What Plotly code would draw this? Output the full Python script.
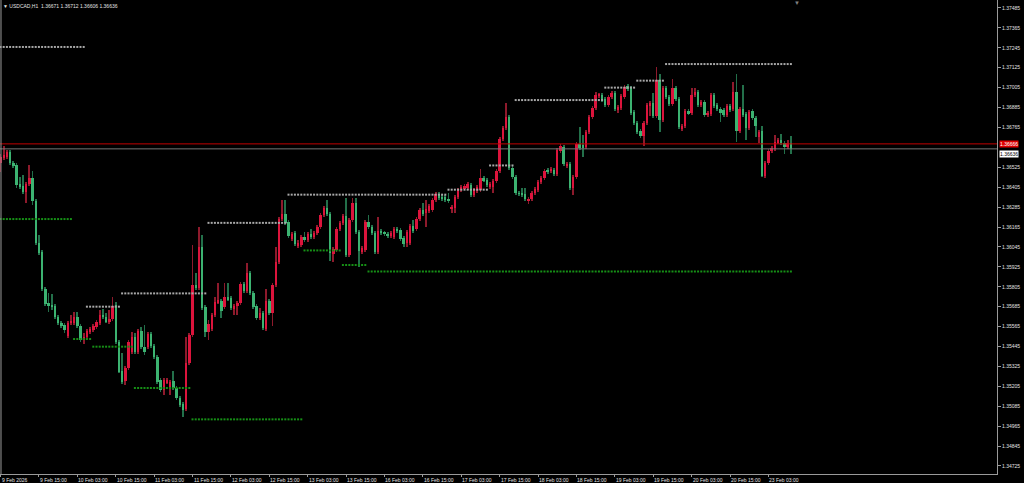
import plotly.graph_objects as go

symbol = "USDCAD,H1"

opens = [
1.36551,1.36581,1.36587,1.36617,1.36551,1.36539,1.36424,1.36412,1.36376,1.36424,
1.36460,1.36322,1.36069,1.36014,1.35791,1.35707,1.35695,1.35689,1.35623,1.35587,
1.35575,1.35508,1.35587,1.35587,1.35623,1.35569,1.35484,1.35502,1.35532,1.35544,
1.35562,1.35587,1.35635,1.35623,1.35593,1.35611,1.35695,1.35472,1.35297,1.35237,
1.35315,1.35412,1.35502,1.35412,1.35538,1.35442,1.35442,1.35520,1.35448,1.35382,
1.35243,1.35183,1.35231,1.35195,1.35237,1.35195,1.35135,1.35098,1.35068,1.35346,
1.35514,1.35816,1.35798,1.36045,1.35683,1.35532,1.35550,1.35635,1.35713,1.35719,
1.35683,1.35743,1.35737,1.35671,1.35689,1.35707,1.35822,1.35779,1.35888,1.35767,
1.35689,1.35617,1.35647,1.35550,1.35719,1.35647,1.35816,1.35954,1.36213,1.36243,
1.36195,1.36093,1.36129,1.36051,1.36057,1.36105,1.36087,1.36123,1.36105,1.36129,
1.36165,1.36237,1.36280,1.36243,1.36002,1.36026,1.36153,1.36189,1.36231,1.35996,
1.36207,1.36310,1.36135,1.36014,1.36026,1.36195,1.36165,1.36129,1.36014,1.36141,
1.36129,1.36123,1.36111,1.36105,1.36153,1.36147,1.36099,1.36069,1.36069,1.36171,
1.36153,1.36213,1.36268,1.36249,1.36262,1.36268,1.36328,1.36364,1.36346,1.36346,
1.36334,1.36274,1.36280,1.36346,1.36388,1.36400,1.36400,1.36418,1.36358,1.36382,
1.36388,1.36460,1.36448,1.36406,1.36406,1.36442,1.36503,1.36695,1.36762,1.36828,
1.36521,1.36466,1.36370,1.36370,1.36364,1.36322,1.36334,1.36370,1.36388,1.36436,
1.36460,1.36509,1.36503,1.36509,1.36484,1.36623,1.36647,1.36533,1.36545,1.36400,
1.36466,1.36665,1.36659,1.36647,1.36738,1.36828,1.36882,1.36955,1.36961,1.36936,
1.36900,1.36948,1.36973,1.36876,1.36882,1.36948,1.37015,1.37003,1.36858,1.36792,
1.36744,1.36713,1.36792,1.36894,1.36912,1.36834,1.37051,1.36810,1.37003,1.36948,
1.36906,1.37003,1.36936,1.36756,1.36774,1.36864,1.36852,1.36961,1.36979,1.36900,
1.36918,1.36840,1.36846,1.36961,1.36900,1.36876,1.36870,1.36840,1.36894,1.36876,
1.36979,1.36744,1.36876,1.36846,1.36762,1.36864,1.36822,1.36707,1.36744,1.36472,
1.36551,1.36623,1.36635,1.36677,1.36689,1.36671,1.36647,1.36671]

highs = [
1.36605,1.36653,1.36629,1.36629,1.36563,1.36551,1.36466,1.36478,1.36436,1.36539,
1.36503,1.36334,1.36117,1.36026,1.35804,1.35767,1.35761,1.35701,1.35635,1.35599,
1.35587,1.35599,1.35635,1.35653,1.35653,1.35581,1.35526,1.35550,1.35562,1.35581,
1.35605,1.35665,1.35671,1.35647,1.35665,1.35743,1.35713,1.35484,1.35406,1.35327,
1.35484,1.35532,1.35526,1.35550,1.35562,1.35575,1.35532,1.35532,1.35460,1.35394,
1.35255,1.35255,1.35255,1.35243,1.35297,1.35207,1.35147,1.35111,1.35502,1.35526,
1.36057,1.35888,1.36165,1.36117,1.35695,1.35605,1.35647,1.35743,1.35828,1.35731,
1.35828,1.35828,1.35749,1.35701,1.35719,1.35834,1.35834,1.35948,1.35900,1.35779,
1.35701,1.35677,1.35659,1.35791,1.35731,1.35828,1.36045,1.36225,1.36328,1.36328,
1.36207,1.36135,1.36141,1.36087,1.36117,1.36135,1.36135,1.36153,1.36141,1.36177,
1.36249,1.36292,1.36328,1.36255,1.36045,1.36165,1.36201,1.36243,1.36340,1.36219,
1.36340,1.36340,1.36147,1.36051,1.36207,1.36237,1.36177,1.36141,1.36225,1.36153,
1.36141,1.36135,1.36141,1.36165,1.36165,1.36159,1.36111,1.36147,1.36183,1.36207,
1.36225,1.36280,1.36310,1.36328,1.36304,1.36340,1.36376,1.36376,1.36358,1.36358,
1.36370,1.36298,1.36358,1.36400,1.36418,1.36424,1.36436,1.36430,1.36400,1.36418,
1.36515,1.36472,1.36460,1.36436,1.36454,1.36515,1.36707,1.36774,1.36912,1.36840,
1.36533,1.36478,1.36382,1.36400,1.36400,1.36346,1.36382,1.36406,1.36448,1.36472,
1.36515,1.36521,1.36527,1.36521,1.36641,1.36665,1.36659,1.36557,1.36557,1.36478,
1.36677,1.36768,1.36719,1.36750,1.36840,1.36894,1.36979,1.36973,1.36973,1.36948,
1.36961,1.36985,1.36985,1.36900,1.36967,1.37021,1.37027,1.37015,1.36870,1.36804,
1.36756,1.36804,1.36912,1.36924,1.36973,1.37129,1.37087,1.37015,1.37015,1.36961,
1.37057,1.37015,1.36948,1.36786,1.36876,1.36876,1.37003,1.37003,1.36991,1.36930,
1.36930,1.36864,1.36973,1.36973,1.36912,1.36888,1.36882,1.36906,1.36906,1.37039,
1.37087,1.36888,1.37021,1.36858,1.36870,1.36876,1.36834,1.36750,1.36774,1.36563,
1.36635,1.36653,1.36719,1.36701,1.36726,1.36683,1.36689,1.36712]

lows = [
1.36497,1.36569,1.36575,1.36539,1.36521,1.36400,1.36394,1.36364,1.36310,1.36412,
1.36298,1.36057,1.35996,1.35779,1.35689,1.35653,1.35665,1.35611,1.35575,1.35556,
1.35526,1.35496,1.35575,1.35575,1.35556,1.35472,1.35460,1.35490,1.35520,1.35532,
1.35550,1.35575,1.35611,1.35587,1.35581,1.35599,1.35460,1.35285,1.35219,1.35213,
1.35303,1.35400,1.35400,1.35400,1.35430,1.35394,1.35430,1.35436,1.35370,1.35219,
1.35171,1.35153,1.35219,1.35153,1.35183,1.35123,1.35080,1.35020,1.35056,1.35334,
1.35502,1.35785,1.35785,1.35665,1.35502,1.35484,1.35538,1.35623,1.35701,1.35617,
1.35671,1.35719,1.35665,1.35635,1.35635,1.35695,1.35767,1.35767,1.35755,1.35671,
1.35605,1.35605,1.35544,1.35538,1.35635,1.35569,1.35804,1.35942,1.36201,1.36177,
1.36099,1.36081,1.36051,1.36039,1.36045,1.36075,1.36075,1.36093,1.36093,1.36117,
1.36153,1.36225,1.36231,1.35960,1.35954,1.36014,1.36141,1.36177,1.35984,1.35984,
1.36195,1.36123,1.35924,1.36002,1.36014,1.36153,1.36117,1.36002,1.36002,1.36117,
1.36111,1.36099,1.36099,1.36093,1.36129,1.36081,1.36045,1.36045,1.36057,1.36129,
1.36141,1.36201,1.36231,1.36165,1.36249,1.36255,1.36316,1.36328,1.36322,1.36316,
1.36310,1.36249,1.36249,1.36334,1.36376,1.36388,1.36388,1.36346,1.36346,1.36370,
1.36376,1.36436,1.36406,1.36394,1.36370,1.36430,1.36491,1.36683,1.36750,1.36509,
1.36454,1.36358,1.36352,1.36346,1.36322,1.36304,1.36322,1.36358,1.36376,1.36424,
1.36448,1.36484,1.36491,1.36472,1.36472,1.36611,1.36533,1.36521,1.36388,1.36358,
1.36454,1.36629,1.36587,1.36635,1.36726,1.36816,1.36870,1.36942,1.36918,1.36888,
1.36888,1.36936,1.36864,1.36852,1.36870,1.36936,1.36985,1.36840,1.36780,1.36726,
1.36701,1.36653,1.36780,1.36834,1.36822,1.36822,1.36738,1.36798,1.36936,1.36894,
1.36894,1.36924,1.36756,1.36744,1.36762,1.36840,1.36840,1.36948,1.36888,1.36888,
1.36828,1.36828,1.36834,1.36882,1.36864,1.36798,1.36828,1.36828,1.36858,1.36864,
1.36677,1.36732,1.36828,1.36689,1.36750,1.36810,1.36707,1.36671,1.36466,1.36460,
1.36539,1.36611,1.36623,1.36665,1.36659,1.36605,1.36635,1.36606]

closes = [
1.36587,1.36599,1.36617,1.36551,1.36533,1.36418,1.36406,1.36376,1.36424,1.36460,
1.36322,1.36069,1.36008,1.35791,1.35701,1.35689,1.35683,1.35623,1.35587,1.35569,
1.35544,1.35587,1.35593,1.35623,1.35569,1.35484,1.35502,1.35538,1.35550,1.35569,
1.35593,1.35635,1.35623,1.35593,1.35611,1.35689,1.35472,1.35291,1.35231,1.35315,
1.35472,1.35502,1.35412,1.35538,1.35442,1.35412,1.35520,1.35448,1.35382,1.35231,
1.35183,1.35243,1.35243,1.35231,1.35195,1.35135,1.35092,1.35062,1.35346,1.35514,
1.35816,1.35798,1.36045,1.35677,1.35532,1.35581,1.35635,1.35713,1.35725,1.35659,
1.35743,1.35731,1.35677,1.35689,1.35707,1.35822,1.35779,1.35888,1.35767,1.35683,
1.35617,1.35647,1.35556,1.35719,1.35647,1.35816,1.35954,1.36213,1.36243,1.36189,
1.36111,1.36123,1.36063,1.36069,1.36105,1.36087,1.36123,1.36105,1.36129,1.36165,
1.36237,1.36280,1.36243,1.36008,1.36033,1.36153,1.36189,1.36231,1.35996,1.36207,
1.36310,1.36135,1.36020,1.36039,1.36195,1.36165,1.36129,1.36014,1.36141,1.36129,
1.36123,1.36111,1.36129,1.36153,1.36141,1.36093,1.36063,1.36135,1.36171,1.36141,
1.36213,1.36268,1.36243,1.36274,1.36292,1.36328,1.36364,1.36340,1.36334,1.36328,
1.36322,1.36286,1.36346,1.36388,1.36406,1.36412,1.36424,1.36358,1.36388,1.36406,
1.36460,1.36448,1.36418,1.36424,1.36442,1.36503,1.36695,1.36762,1.36828,1.36521,
1.36466,1.36370,1.36364,1.36358,1.36334,1.36334,1.36370,1.36394,1.36436,1.36460,
1.36503,1.36497,1.36515,1.36484,1.36629,1.36653,1.36545,1.36545,1.36400,1.36466,
1.36665,1.36641,1.36641,1.36738,1.36828,1.36882,1.36961,1.36967,1.36930,1.36900,
1.36948,1.36973,1.36876,1.36888,1.36955,1.37009,1.36997,1.36852,1.36792,1.36738,
1.36713,1.36792,1.36900,1.36912,1.36834,1.37051,1.36810,1.37003,1.36948,1.36906,
1.37003,1.36936,1.36768,1.36774,1.36864,1.36852,1.36961,1.36979,1.36900,1.36918,
1.36840,1.36852,1.36961,1.36894,1.36876,1.36852,1.36840,1.36894,1.36870,1.36979,
1.36744,1.36876,1.36840,1.36762,1.36858,1.36822,1.36774,1.36738,1.36472,1.36551,
1.36623,1.36641,1.36677,1.36689,1.36671,1.36647,1.36671,1.36636]

# time-axis labels (bar index of each label)
time_label_bars = [0, 12, 24, 36, 48, 60, 72, 84, 96, 108, 120, 132, 144, 156, 168, 180, 192, 204, 216, 228, 240]
time_labels = ["9 Feb 2026", "9 Feb 15:00", "10 Feb 03:00", "10 Feb 15:00", "11 Feb 03:00", "11 Feb 15:00",
               "12 Feb 03:00", "12 Feb 15:00", "13 Feb 03:00", "13 Feb 15:00", "16 Feb 03:00", "16 Feb 15:00",
               "17 Feb 03:00", "17 Feb 15:00", "18 Feb 03:00", "18 Feb 15:00", "19 Feb 03:00", "19 Feb 15:00",
               "20 Feb 03:00", "20 Feb 15:00", "23 Feb 03:00"]

# visible price-scale labels (the 1.36645 level is covered by the bid/ask boxes)
price_ticks = [1.34725, 1.34845, 1.34965, 1.35085, 1.35205, 1.35325, 1.35445, 1.35565, 1.35685, 1.35805,
               1.35925, 1.36045, 1.36165, 1.36285, 1.36405, 1.36525, 1.36765, 1.36885, 1.37005,
               1.37125, 1.37245, 1.37365, 1.37485]

# resistance (grey dotted) levels
res_price = [1.37250, 1.35685, 1.35765, 1.36190, 1.36360, 1.36390, 1.36536, 1.36930, 1.37005, 1.37047, 1.37147]
res_start = [0, 27, 38, 65, 90, 140, 153, 161, 189, 199, 208]
res_end = [26, 37, 64, 89, 139, 152, 160, 188, 198, 207, 247]

# support (green dotted) levels
sup_price = [1.36213, 1.35490, 1.35444, 1.35195, 1.35006, 1.36024, 1.35936, 1.35897]
sup_start = [0, 23, 29, 42, 60, 95, 107, 115]
sup_end = [22, 28, 41, 59, 94, 106, 114, 247]

bid = 1.36636
ask = 1.36666

y_min, y_max = 1.346767, 1.375330
x_min, x_max = -0.156, 311.41

UP_BODY, DN_BODY = "#dc143c", "#3cb371"
UP_WICK, DN_WICK = "#8e1a2c", "#23704a"
AXIS = "#9a9a9a"
TXT = "#e2e2e2"
FONT = "Liberation Sans"

idx = list(range(len(closes)))
up = [c >= o for o, c in zip(opens, closes)]

fig = go.Figure()

# wicks
fig.add_trace(go.Bar(
    x=idx, y=[h - l for h, l in zip(highs, lows)], base=lows, width=0.3,
    marker=dict(color=[UP_WICK if u else DN_WICK for u in up], line=dict(width=0)),
    hoverinfo="skip", showlegend=False))
# bodies
fig.add_trace(go.Bar(
    x=idx, y=[abs(c - o) for o, c in zip(opens, closes)],
    base=[min(o, c) for o, c in zip(opens, closes)], width=0.75,
    marker=dict(color=[UP_BODY if u else DN_BODY for u in up], line=dict(width=0)),
    hoverinfo="skip", showlegend=False))

# level dots
def level_points(prices, starts, ends):
    xs, ys = [], []
    for p, s, e in zip(prices, starts, ends):
        for i in range(s, e + 1):
            xs.append(i)
            ys.append(p)
    return xs, ys

rx, ry = level_points(res_price, res_start, res_end)
sx, sy = level_points(sup_price, sup_start, sup_end)
fig.add_trace(go.Scatter(x=rx, y=ry, mode="markers",
                         marker=dict(symbol="square", size=2, color="#a8a8a8", line=dict(width=0)),
                         hoverinfo="skip", showlegend=False))
fig.add_trace(go.Scatter(x=sx, y=sy, mode="markers",
                         marker=dict(symbol="square", size=2, color="#169016", line=dict(width=0)),
                         hoverinfo="skip", showlegend=False))

# ask / bid lines
fig.add_shape(type="line", xref="paper", x0=0, x1=1, yref="y", y0=ask, y1=ask,
              line=dict(color="#c00000", width=1))
fig.add_shape(type="line", xref="paper", x0=0, x1=1, yref="y", y0=bid, y1=bid,
              line=dict(color="#777777", width=1))
# left frame
fig.add_shape(type="line", xref="paper", x0=0.001, x1=0.001, yref="paper", y0=0, y1=1,
              line=dict(color=AXIS, width=1))

annotations = []
for b, t in zip(time_label_bars, time_labels):
    annotations.append(dict(x=b, xref="x", y=0, yref="paper", xanchor="left", yanchor="top",
                            text=t, showarrow=False, yshift=-1, xshift=-1,
                            font=dict(family=FONT, size=5, color=TXT)))
annotations.append(dict(x=0, xref="paper", y=1, yref="paper", xanchor="left", yanchor="top",
                        text="▼ " + symbol + "  " + " ".join(f"{v:.5f}" for v in
                                                              (opens[-1], highs[-1], lows[-1], closes[-1])),
                        showarrow=False, xshift=1, yshift=-1,
                        font=dict(family=FONT, size=5, color=TXT)))
annotations.append(dict(x=0.7994, xref="paper", y=1, yref="paper", xanchor="center", yanchor="top",
                        text="▼", showarrow=False, yshift=2,
                        font=dict(family=FONT, size=6, color="#808080")))
annotations.append(dict(x=1, xref="paper", y=ask, yref="y", xanchor="left", yanchor="bottom",
                        text=f"{ask:.5f}", showarrow=False, xshift=2, yshift=-4, bgcolor="#e00000", borderpad=0,
                        font=dict(family=FONT, size=5, color="#ffffff")))
annotations.append(dict(x=1, xref="paper", y=bid, yref="y", xanchor="left", yanchor="top",
                        text=f"{bid:.5f}", showarrow=False, xshift=2, yshift=-1, bgcolor="#ffffff", borderpad=0,
                        font=dict(family=FONT, size=5, color="#000000")))

fig.update_layout(
    width=1024, height=483,
    margin=dict(l=0, r=27, t=0, b=9),
    paper_bgcolor="#000000", plot_bgcolor="#000000",
    barmode="overlay", bargap=0, showlegend=False,
    annotations=annotations,
    xaxis=dict(range=[x_min, x_max], showgrid=False, zeroline=False,
               showline=True, linecolor=AXIS, linewidth=1,
               tickmode="array", tickvals=time_label_bars, ticks="outside", ticklen=2,
               tickcolor=AXIS, showticklabels=False, fixedrange=True),
    yaxis=dict(range=[y_min, y_max], side="right", showgrid=False, zeroline=False,
               showline=True, linecolor=AXIS, linewidth=1,
               tickmode="array", tickvals=price_ticks, ticktext=[f"{v:.5f}" for v in price_ticks],
               ticks="outside", ticklen=3, tickcolor=AXIS,
               tickfont=dict(family=FONT, size=5, color=TXT), fixedrange=True),
)

fig.write_html("out.html", config={"displayModeBar": False},
               post_script="document.body.style.margin='0';document.body.style.overflow='hidden';")
